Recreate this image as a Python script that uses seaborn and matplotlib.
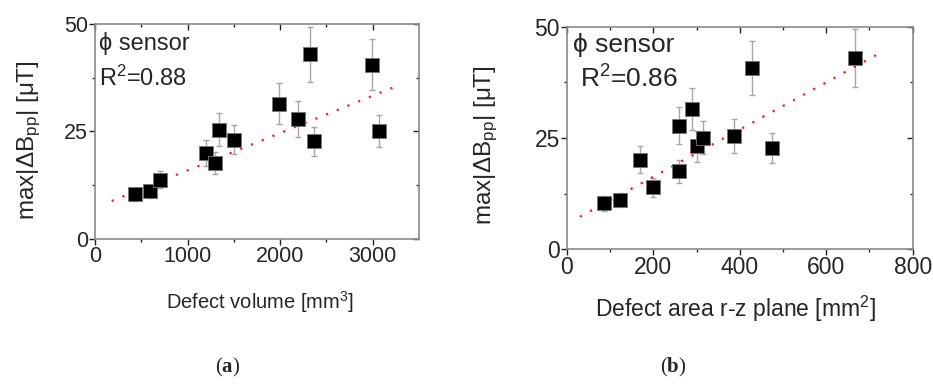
import numpy as np
import pandas as pd
import matplotlib
matplotlib.use("Agg")
import matplotlib.pyplot as plt
import seaborn as sns

# ---- data ----
vol_a = [433, 595, 699, 1197, 1294, 1344, 1502, 1993, 2194, 2319, 2366, 2993, 3072]
b_a = [10.4, 11.1, 13.8, 20.0, 17.6, 25.4, 23.1, 31.5, 27.8, 43.0, 22.7, 40.6, 25.1]
err_a = [1.5, 1.5, 2.0, 3.0, 2.5, 3.8, 3.4, 4.8, 4.2, 6.4, 3.4, 6.0, 3.7]
fit_x_a = [180, 3250]
fit_slope_a, fit_int_a = 0.0087, 7.23

area_b = [86, 123, 169, 200, 259, 260, 289, 300, 314, 386, 428, 475, 666]
b_b = [10.3, 11.1, 20.1, 13.9, 27.8, 17.5, 31.5, 23.1, 25.1, 25.4, 40.7, 22.7, 43.0]
err_b = [1.6, 1.5, 3.0, 2.1, 4.2, 2.6, 4.7, 3.5, 3.7, 3.8, 6.1, 3.4, 6.5]
fit_x_b = [30, 723]
fit_slope_b, fit_int_b = 0.053, 5.71

r2_a, r2_b = "0.88", "0.86"
xticks_a = [0, 1000, 2000, 3000]
xticks_b = [0, 200, 400, 600, 800]
yticks = [0, 25, 50]

sns.set_theme(style="ticks")
plt.rcParams["font.family"] = ["Liberation Sans", "DejaVu Sans"]
plt.rcParams["mathtext.fontset"] = "custom"
plt.rcParams["mathtext.rm"] = "Liberation Sans"
plt.rcParams["mathtext.it"] = "Liberation Sans"
plt.rcParams["mathtext.bf"] = "Liberation Serif:bold"

fig = plt.figure(figsize=(9.33, 3.85), dpi=100)
ax_a = fig.add_axes([0.1018, 0.380, 0.3473, 0.557])
ax_b = fig.add_axes([0.6077, 0.3525, 0.3705, 0.578])

frame_col = "#8a8a8a"

def draw(ax, x, y, e, fx, slope, icpt, xlim, xticks, xminor, xlabel, r2,
         fs_tick, fs_xlab, fs_ylab, fs_txt, txt_pos, xlab_pos, ylab_pos):
    ax.errorbar(x, y, yerr=e, fmt="none", ecolor="#a6a6a6", elinewidth=1.0,
                capsize=2.5, capthick=1.0, zorder=2)
    fxa = np.array(fx, dtype=float)
    df_fit = pd.DataFrame({"x": fxa, "y": slope * fxa + icpt})
    sns.lineplot(data=df_fit, x="x", y="y", ax=ax, color="#ff1a1a",
                 linestyle=(0, (1, 4.2)), linewidth=1.6, zorder=3)
    df = pd.DataFrame({"x": x, "y": y})
    sns.scatterplot(data=df, x="x", y="y", ax=ax, marker="s", s=95,
                    color="black", edgecolor="#777777", linewidth=0.6, zorder=4)
    ax.set_xlim(*xlim)
    ax.set_ylim(0, 50)
    ax.set_xticks(xticks)
    ax.set_xticks(xminor, minor=True)
    ax.set_yticks(yticks)
    ax.set_yticks([12.5, 37.5], minor=True)
    ax.tick_params(axis="both", which="major", direction="out", length=4,
                   width=1, color="#222222", labelsize=fs_tick, pad=1)
    ax.tick_params(axis="both", which="minor", direction="out", length=2.5,
                   width=1, color="#222222")
    for sp in ax.spines.values():
        sp.set_color(frame_col)
        sp.set_linewidth(1.2)
    # mirrored ticks on top/right pointing inward
    top = ax.secondary_xaxis("top")
    top.set_xticks(xticks)
    top.set_xticks(xminor, minor=True)
    top.tick_params(which="major", direction="in", length=4, width=1,
                    color="#222222", labeltop=False)
    top.tick_params(which="minor", direction="in", length=2.5, width=1,
                    color="#222222")
    top.spines["top"].set_visible(False)
    right = ax.secondary_yaxis("right")
    right.set_yticks(yticks)
    right.set_yticks([12.5, 37.5], minor=True)
    right.tick_params(which="major", direction="in", length=4, width=1,
                      color="#222222", labelright=False)
    right.tick_params(which="minor", direction="in", length=2.5, width=1,
                      color="#222222")
    right.spines["right"].set_visible(False)
    ax.set_xlabel(xlabel, fontsize=fs_xlab)
    ax.set_ylabel(r"max|ΔB$_{\mathrm{pp}}$| [μT]", fontsize=fs_ylab)
    ax.xaxis.set_label_coords(*xlab_pos)
    ax.yaxis.set_label_coords(*ylab_pos)
    ax.text(txt_pos[0], txt_pos[1], "ϕ sensor", transform=ax.transAxes,
            fontsize=fs_txt, family=["Liberation Sans", "DejaVu Sans"])
    ax.text(txt_pos[2], txt_pos[3], r"R$^{2}$=" + r2, transform=ax.transAxes,
            fontsize=fs_txt)

draw(ax_a, vol_a, b_a, err_a, fit_x_a, fit_slope_a, fit_int_a, (0, 3500),
     xticks_a, [500, 1500, 2500], r"Defect volume [mm$^{3}$]", r2_a,
     15.5, 14.5, 17.5, 17, (0.012, 0.88, 0.012, 0.712),
     (0.508, -0.235), (-0.16, 0.46))
draw(ax_b, area_b, b_b, err_b, fit_x_b, fit_slope_b, fit_int_b, (0, 800),
     xticks_b, [100, 300, 500, 700], r"Defect area r-z plane [mm$^{2}$]", r2_b,
     16.5, 16.5, 17.5, 19, (0.018, 0.888, 0.038, 0.728),
     (0.486, -0.2), (-0.194, 0.468))

fig.text(228 / 933, 1 - 367 / 385, r"($\mathbf{a}$)", ha="center", va="center",
         fontsize=15, family="Liberation Serif")
fig.text(673 / 933, 1 - 367 / 385, r"($\mathbf{b}$)", ha="center", va="center",
         fontsize=15, family="Liberation Serif")

fig.savefig("out.png", dpi=100)
